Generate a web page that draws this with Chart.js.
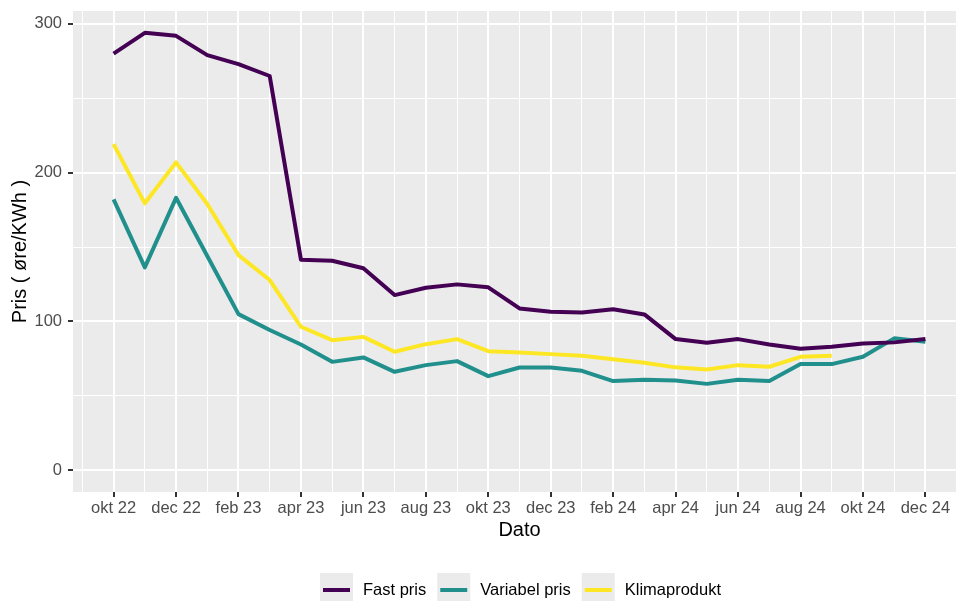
<!DOCTYPE html>
<html>
<head>
<meta charset="utf-8">
<script src="https://cdn.jsdelivr.net/npm/chart.js@4.4.1/dist/chart.umd.min.js"></script>
<style>
  html, body { margin: 0; padding: 0; background: #fff; overflow: hidden; }
  #wrap { width: 957px; height: 601px; overflow: hidden; }
  canvas { display: block; }
</style>
</head>
<body>
<div id="wrap"><canvas id="chart" width="970" height="601"></canvas></div>
<script>
// Monthly observations, okt 22 .. dec 24
const months = ['2022-10', '2022-11', '2022-12', '2023-01', '2023-02', '2023-03', '2023-04', '2023-05', '2023-06',
    '2023-07', '2023-08', '2023-09', '2023-10', '2023-11', '2023-12', '2024-01', '2024-02', '2024-03',
    '2024-04', '2024-05', '2024-06', '2024-07', '2024-08', '2024-09', '2024-10', '2024-11', '2024-12'];
const tickLabels = ['okt 22', 'dec 22', 'feb 23', 'apr 23', 'jun 23', 'aug 23', 'okt 23',
    'dec 23', 'feb 24', 'apr 24', 'jun 24', 'aug 24', 'okt 24', 'dec 24'];
const yTicks = [0, 100, 200, 300];

const fastPris = [280, 294, 292, 279, 273, 265, 141.5, 140.8, 135.7, 117.7, 122.6, 124.9, 122.9, 108.7,
    106.5, 106, 108.2, 104.7, 88.1, 85.6, 88.1, 84.5, 81.6, 82.9, 85.2, 85.9, 88.1];
const variabelPris = [182, 136.3, 183.1, 144, 104.9, 94.2, 84.5, 72.8, 75.8, 66.1, 70.6, 73.3, 63.2, 69,
    69, 66.8, 59.9, 60.7, 60.3, 58, 60.7, 59.9, 71.3, 71.3, 76.2, 88.6, 86.3];
const klimaprodukt = [219.2, 179.4, 206.9, 178.9, 144.6, 127.8, 96.4, 87.4, 89.6, 79.6, 84.7, 88.1, 80,
    79.1, 78, 76.9, 74.5, 72.2, 69.1, 67.7, 70.6, 69.5, 76.2, 76.9, null, null, null];

const seriesNames = ['Fast pris', 'Variabel pris', 'Klimaprodukt'];
const seriesColors = ['#440154', '#21908C', '#FDE725'];

const FONT = "'Liberation Sans', Arial, sans-serif";
const toPoints = arr => arr.map((v, i) => ({ x: i, y: v }));

// ggplot-like grey panel
const panelBg = {
    id: 'panelBg',
    beforeDraw(chart) {
        const { ctx, chartArea: a } = chart;
        ctx.save();
        ctx.fillStyle = '#EBEBEB';
        ctx.fillRect(a.left, a.top, a.right - a.left, a.bottom - a.top);
        ctx.restore();
    }
};

// legend at the bottom with grey key boxes
const bottomLegend = {
    id: 'bottomLegend',
    afterDraw(chart) {
        const { ctx, chartArea: a } = chart;
        ctx.save();
        ctx.font = '16.5px ' + FONT;
        const keyW = 33, keyToText = 43, gap = 11;
        const widths = chart.data.datasets.map(d => ctx.measureText(d.label).width);
        const total = widths.reduce((s, w) => s + w + keyToText, 0) + gap * (widths.length - 1);
        let x = (a.left + a.right) / 2 - total / 2 + 1;
        const yMid = 590;
        chart.data.datasets.forEach((d, i) => {
            ctx.fillStyle = '#EBEBEB';
            ctx.fillRect(x, 573, keyW, 36);
            ctx.strokeStyle = d.borderColor;
            ctx.lineWidth = 4;
            ctx.beginPath();
            ctx.moveTo(x + 3, yMid);
            ctx.lineTo(x + keyW - 3, yMid);
            ctx.stroke();
            ctx.fillStyle = '#000';
            ctx.textBaseline = 'middle';
            ctx.textAlign = 'left';
            ctx.fillText(d.label, x + keyToText, yMid);
            x += keyToText + widths[i] + gap;
        });
        ctx.restore();
    }
};

const isMajorX = v => v >= 0 && v <= 26 && v % 2 === 0;
const isMajorY = v => yTicks.includes(v);

new Chart(document.getElementById('chart'), {
    type: 'line',
    data: {
        datasets: [fastPris, variabelPris, klimaprodukt].map((arr, i) => ({
            label: seriesNames[i],
            data: toPoints(arr),
            borderColor: seriesColors[i],
            backgroundColor: seriesColors[i],
            borderWidth: 4,
            borderJoinStyle: 'round',
            borderCapStyle: 'butt',
            pointRadius: 0,
            tension: 0,
            spanGaps: false
        }))
    },
    options: {
        responsive: false,
        animation: false,
        layout: { padding: { left: 0, top: 11, right: 4, bottom: 59 } },
        plugins: { legend: { display: false }, tooltip: { enabled: false } },
        scales: {
            x: {
                type: 'linear',
                min: -1.3,
                max: months.length - 1 + 1.3,
                afterBuildTicks: s => { s.ticks = []; for (let v = -1; v <= months.length; v++) s.ticks.push({ value: v }); },
                afterFit: s => { s.height = 50; s.paddingLeft = 0; s.paddingRight = 0; },
                border: { display: false },
                grid: {
                    color: '#FFFFFF',
                    lineWidth: c => (isMajorX(c.tick.value) ? 2 : 1),
                    tickLength: 5,
                    tickWidth: 2,
                    tickColor: c => (isMajorX(c.tick.value) ? '#333333' : 'rgba(0,0,0,0)')
                },
                ticks: {
                    autoSkip: false,
                    maxRotation: 0,
                    padding: 2,
                    color: '#4D4D4D',
                    font: { family: FONT, size: 16.5 },
                    callback: v => (isMajorX(v) ? tickLabels[v / 2] : '')
                },
                title: {
                    display: true,
                    text: 'Dato',
                    color: '#000',
                    font: { family: FONT, size: 20 },
                    padding: { top: 0, bottom: 0 }
                }
            },
            y: {
                min: -14.7,
                max: 308.7,
                afterBuildTicks: s => { s.ticks = [0, 50, 100, 150, 200, 250, 300].map(v => ({ value: v })); },
                afterFit: s => { s.width = 73; s.paddingTop = 0; s.paddingBottom = 0; },
                border: { display: false },
                grid: {
                    color: '#FFFFFF',
                    lineWidth: c => (isMajorY(c.tick.value) ? 2 : 1),
                    tickLength: 5,
                    tickWidth: 2,
                    tickColor: c => (isMajorY(c.tick.value) ? '#333333' : 'rgba(0,0,0,0)')
                },
                ticks: {
                    padding: 6,
                    color: '#4D4D4D',
                    font: { family: FONT, size: 16.5 },
                    callback: v => (isMajorY(v) ? String(v) : '')
                },
                title: {
                    display: true,
                    text: 'Pris ( øre/KWh )',
                    color: '#000',
                    font: { family: FONT, size: 20 },
                    padding: { top: 8, bottom: 0 }
                }
            }
        }
    },
    plugins: [panelBg, bottomLegend]
});
</script>
</body>
</html>
